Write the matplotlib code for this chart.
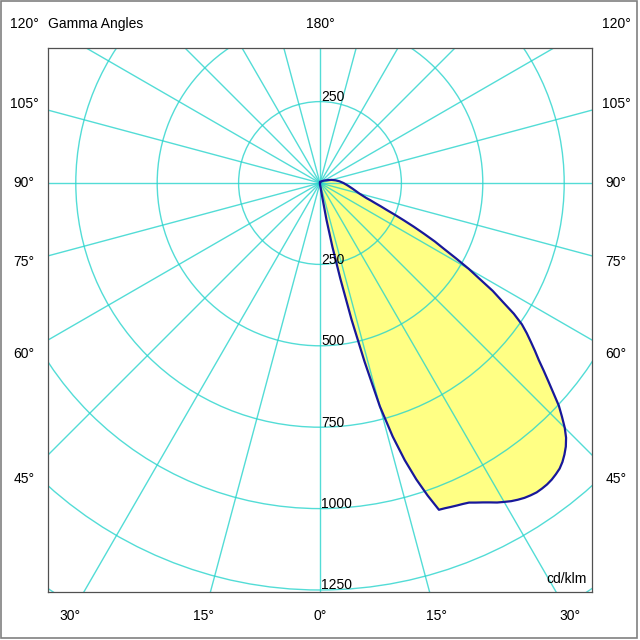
import numpy as np
import matplotlib
matplotlib.use("Agg")
import matplotlib.pyplot as plt
from matplotlib.patches import Circle, Rectangle

# intensity distribution, gamma angle (deg) -> cd/klm
gamma_deg = [0, 5, 8, 9, 10, 11, 12, 13, 14, 15, 16, 17, 18, 19, 20,
             21, 22, 23, 24, 25, 26, 27, 28, 29, 30, 31, 32, 33, 34, 35,
             36, 37, 38, 39, 40, 41, 42, 43, 44, 45, 46, 47, 48, 49, 50,
             51, 52, 53, 54, 55, 56, 57, 58, 59, 60, 61, 62, 63, 64, 65,
             66, 67, 68, 69, 70, 71, 72, 75, 78, 80, 85, 90,
             95, 100, 105, 110, 120, 135, 150, 165, 180]
intensity = [5, 8, 20, 40, 115, 200, 300, 430, 565, 710, 810, 890, 957, 1015, 1068,
             1070, 1073, 1076, 1079, 1083, 1092, 1101, 1111, 1122, 1131, 1140, 1147, 1153, 1157, 1160,
             1160, 1159, 1156, 1151, 1145, 1135, 1122, 1107, 1088, 1063, 1033, 1003, 965, 930, 897,
             865, 838, 811, 785, 757, 718, 668, 626, 572, 528, 478, 432, 396, 355, 318,
             282, 250, 221, 200, 180, 165, 150, 125, 110, 102, 85, 72,
             60, 48, 37, 26, 15, 8, 5, 4, 4]

ring_values = [250, 500, 750, 1000, 1250]
ray_step = 15
bottom_angles = [0, 15, 30]
side_angles = [45, 60, 75, 90, 105, 120]
top_angles = [180]

# pixel geometry of the original diagram
PX = 1250 / 407.0          # cd/klm per pixel
GRID_C = "#28d4cc"
TXT = 10

plt.rcParams['font.family'] = ['Liberation Sans', 'DejaVu Sans']

fig = plt.figure(figsize=(6.4, 6.4), dpi=100)
ax = fig.add_axes([48 / 640, 48 / 640, 544 / 640, 544 / 640])
ax.set_xlim(-272 * PX, 272 * PX)
ax.set_ylim(-409 * PX, 135 * PX)
ax.set_xticks([])
ax.set_yticks([])
for sp in ax.spines.values():
    sp.set_color("#505050")
    sp.set_linewidth(0.9)

# curve
g = np.radians(gamma_deg)
I = np.array(intensity, dtype=float)
cx = I * np.sin(g)
cy = -I * np.cos(g)
cx = np.concatenate([[0], cx, [0]])
cy = np.concatenate([[0], cy, [0]])
ax.fill(cx, cy, color="#ffff84", zorder=1, lw=0)

# grid
for r in ring_values + [1500]:
    ax.add_patch(Circle((0, 0), r, fill=False, ec=GRID_C, lw=1.0, alpha=0.8, zorder=2))
for a in range(0, 360, ray_step):
    t = np.radians(a)
    ax.plot([0, 3000 * np.sin(t)], [0, -3000 * np.cos(t)], color=GRID_C, lw=1.0,
            alpha=0.8, zorder=2)

ax.plot(cx, cy, color="#18189a", lw=1.6, zorder=3, solid_joinstyle="round")

# ring labels
for r in ring_values:
    ax.text(3, -r + 14, str(r), fontsize=TXT, ha="left", va="center", zorder=4)
ax.text(3, ring_values[0] + 14, str(ring_values[0]), fontsize=TXT, ha="left",
        va="center", zorder=4)

# gamma angle labels outside the frame
side_x = 296 * PX
bottom_y = -433 * PX
top_y = 159 * PX
for a in bottom_angles:
    x = abs(bottom_y) * np.tan(np.radians(a))
    for s in ([1, -1] if a else [1]):
        ax.text(s * x, bottom_y, "%d°" % a, fontsize=TXT, ha="center", va="center",
                clip_on=False)
for a in side_angles:
    y = -side_x / np.tan(np.radians(a))
    y = min(y, top_y)
    for s in [1, -1]:
        ax.text(s * side_x, y, "%d°" % a, fontsize=TXT, ha="center", va="center",
                clip_on=False)
for a in top_angles:
    ax.text(0, top_y, "%d°" % a, fontsize=TXT, ha="center", va="center", clip_on=False)

ax.text(-272 * PX, top_y, "Gamma Angles", fontsize=TXT, ha="left", va="center",
        clip_on=False)
ax.text(267 * PX, -396 * PX, "cd/klm", fontsize=TXT, ha="right", va="center")

fig.add_artist(Rectangle((1 / 640, 2 / 640), 636 / 640, 637 / 640,
                         transform=fig.transFigure, fill=False, ec="#808080", lw=1.2))

fig.savefig("out.png", dpi=100, facecolor="white")
